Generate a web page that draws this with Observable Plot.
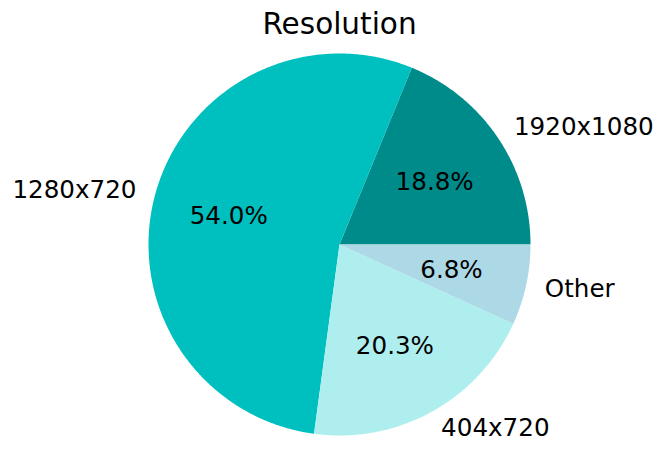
<!DOCTYPE html>
<html>
<head>
<meta charset="utf-8">
<script src="https://cdn.jsdelivr.net/npm/d3@7"></script>
<script src="https://cdn.jsdelivr.net/npm/@observablehq/plot@0.6"></script>
<style>
  html, body { margin: 0; padding: 0; background: #ffffff; }
  #chart { width: 665px; height: 465px; }
</style>
</head>
<body>
<div id="chart"></div>
<script>
// ---- data ----
const title = "Resolution";
const categories = ["1920x1080", "1280x720", "404x720", "Other"];
const shares = [18.8, 54.0, 20.3, 6.8];
const colors = ["#008B8B", "#00BFBF", "#AFEEEE", "#ADD8E6"];

// ---- build slices (counter-clockwise from 3 o'clock, like matplotlib) ----
const total = d3.sum(shares);
let cum = 0;
const slices = categories.map((name, i) => {
  const a0 = (cum / total) * 2 * Math.PI;
  cum += shares[i];
  const a1 = (cum / total) * 2 * Math.PI;
  const pts = [{x: 0, y: 0}];
  const n = Math.max(2, Math.ceil((a1 - a0) / (Math.PI / 360)));
  for (let k = 0; k <= n; k++) {
    const a = a0 + (a1 - a0) * k / n;
    pts.push({x: Math.cos(a), y: Math.sin(a)});
  }
  pts.push({x: 0, y: 0});
  const mid = (a0 + a1) / 2;
  return {name, value: shares[i], color: colors[i], pts, mid};
});

const labelRows = slices.map(s => ({
  text: s.name,
  x: 1.1 * Math.cos(s.mid),
  y: 1.1 * Math.sin(s.mid),
  anchor: Math.cos(s.mid) >= 0 ? "start" : "end"
}));
const pctRows = slices.map(s => ({
  text: s.value.toFixed(1) + "%",
  x: 0.6 * Math.cos(s.mid),
  y: 0.6 * Math.sin(s.mid)
}));

const R = 191, cx = 339, cy = 244, W = 665, H = 465;
const font = "DejaVu Sans";

const chart = Plot.plot({
  width: W,
  height: H,
  margin: 0,
  x: {domain: [-cx / R, (W - cx) / R], axis: null},
  y: {domain: [-(H - cy) / R, cy / R], axis: null},
  style: {fontFamily: font, background: "#ffffff", color: "#000000"},
  marks: [
    ...slices.map(s => Plot.line(s.pts, {x: "x", y: "y", fill: s.color, stroke: "none"})),
    Plot.text(labelRows.filter(d => d.anchor === "start"), {
      x: "x", y: "y", text: "text", textAnchor: "start", lineAnchor: "middle",
      fontSize: 24.6, fontFamily: font, fill: "#000000", dy: 0
    }),
    Plot.text(labelRows.filter(d => d.anchor === "end"), {
      x: "x", y: "y", text: "text", textAnchor: "end", lineAnchor: "middle",
      fontSize: 24.6, fontFamily: font, fill: "#000000", dy: 0
    }),
    Plot.text(pctRows, {
      x: "x", y: "y", text: "text", textAnchor: "middle", lineAnchor: "middle",
      fontSize: 24.6, fontFamily: font, fill: "#000000", dy: 1
    }),
    Plot.text([title], {
      x: () => 0, y: () => (cy - 33) / R, text: d => d,
      textAnchor: "middle", lineAnchor: "bottom",
      fontSize: 29.5, fontFamily: font, fill: "#000000"
    })
  ]
});
document.getElementById("chart").appendChild(chart);
</script>
</body>
</html>
